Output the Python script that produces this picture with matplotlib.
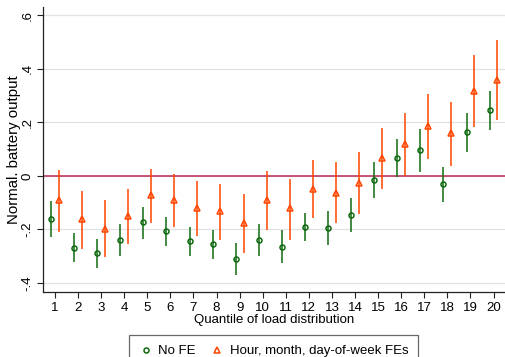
import numpy as np
import matplotlib
matplotlib.use("Agg")
import matplotlib.pyplot as plt
from matplotlib.lines import Line2D
from matplotlib.ticker import FuncFormatter

plt.rcParams['font.family'] = ['Liberation Sans', 'DejaVu Sans']

# quantiles of the load distribution
quantiles = np.arange(1, 21)

# No FE: point estimate and 95% CI
nofe_est = [-0.161, -0.268, -0.290, -0.239, -0.174, -0.207, -0.245, -0.256, -0.311, -0.239,
            -0.265, -0.190, -0.194, -0.145, -0.015, 0.068, 0.095, -0.031, 0.163, 0.244]
nofe_lo = [-0.229, -0.321, -0.343, -0.299, -0.235, -0.261, -0.300, -0.310, -0.371, -0.299,
           -0.325, -0.245, -0.258, -0.209, -0.083, -0.004, 0.013, -0.096, 0.089, 0.171]
nofe_hi = [-0.093, -0.213, -0.236, -0.180, -0.116, -0.154, -0.192, -0.204, -0.251, -0.180,
           -0.203, -0.137, -0.131, -0.084, 0.053, 0.138, 0.175, 0.033, 0.235, 0.316]

# Hour, month, day-of-week FEs
fe_est = [-0.091, -0.163, -0.197, -0.151, -0.073, -0.091, -0.122, -0.133, -0.177, -0.091,
          -0.122, -0.049, -0.063, -0.025, 0.066, 0.118, 0.186, 0.159, 0.318, 0.359]
fe_lo = [-0.208, -0.274, -0.304, -0.255, -0.177, -0.193, -0.225, -0.238, -0.289, -0.203,
         -0.238, -0.157, -0.175, -0.141, -0.051, 0.000, 0.064, 0.038, 0.181, 0.209]
fe_hi = [0.021, -0.057, -0.091, -0.050, 0.025, 0.007, -0.021, -0.031, -0.068, 0.017,
         -0.011, 0.059, 0.050, 0.090, 0.179, 0.235, 0.306, 0.276, 0.453, 0.509]

green = '#0f6a0f'
orange = '#ff4500'
fs = 9.5

fig = plt.figure(figsize=(5.05, 3.57), dpi=100)
ax = fig.add_axes([0.0851, 0.182, 0.915, 0.798])

x_g = quantiles - 0.17
x_o = quantiles + 0.17

ax.axhline(0, color='#c0395e', lw=1.2, zorder=1)

ax.vlines(x_g, nofe_lo, nofe_hi, color=green, lw=1.1, zorder=2)
ax.plot(x_g, nofe_est, 'o', ms=3.6, mfc='none', mec=green, mew=1.1, zorder=3)
ax.vlines(x_o, fe_lo, fe_hi, color=orange, lw=1.1, zorder=2)
ax.plot(x_o, fe_est, '^', ms=5, mfc='none', mec=orange, mew=1.1, zorder=3)

ax.set_xlim(0.48, 20.5)
ax.set_ylim(-0.434, 0.63)
ax.set_xticks(quantiles)
ax.set_yticks([-0.4, -0.2, 0, 0.2, 0.4, 0.6])


def fmt(v, pos):
    s = '%g' % round(v, 1)
    return s.replace('0.', '.')


ax.yaxis.set_major_formatter(FuncFormatter(fmt))
ax.grid(axis='y', color='#e2e2e2', lw=0.9)
ax.set_axisbelow(True)
for s in ['top', 'right']:
    ax.spines[s].set_visible(False)
for s in ['left', 'bottom']:
    ax.spines[s].set_color('#222222')
    ax.spines[s].set_linewidth(0.9)
ax.tick_params(axis='both', labelsize=fs, length=4, width=0.8, color='#222222', pad=3)
plt.setp(ax.get_yticklabels(), rotation=90, va='center')
ax.set_xlabel('Quantile of load distribution', fontsize=fs, labelpad=0)
ax.set_ylabel('Normal. battery output', fontsize=10.8, labelpad=0)

handles = [Line2D([], [], ls='none', marker='o', ms=3.6, mfc='none', mec=green, mew=1.1),
           Line2D([], [], ls='none', marker='^', ms=5, mfc='none', mec=orange, mew=1.1)]
leg = fig.legend(handles, ['No FE', 'Hour, month, day-of-week FEs'], loc='upper center',
                 bbox_to_anchor=(0.542, 1 - 335 / 357), ncol=2, fontsize=fs,
                 frameon=True, fancybox=False, handlelength=1.0, handletextpad=0.45,
                 columnspacing=1.1, borderpad=0.75, borderaxespad=0)
leg.get_frame().set_edgecolor('#444444')
leg.get_frame().set_linewidth(0.9)

fig.savefig('out.png', dpi=100)
